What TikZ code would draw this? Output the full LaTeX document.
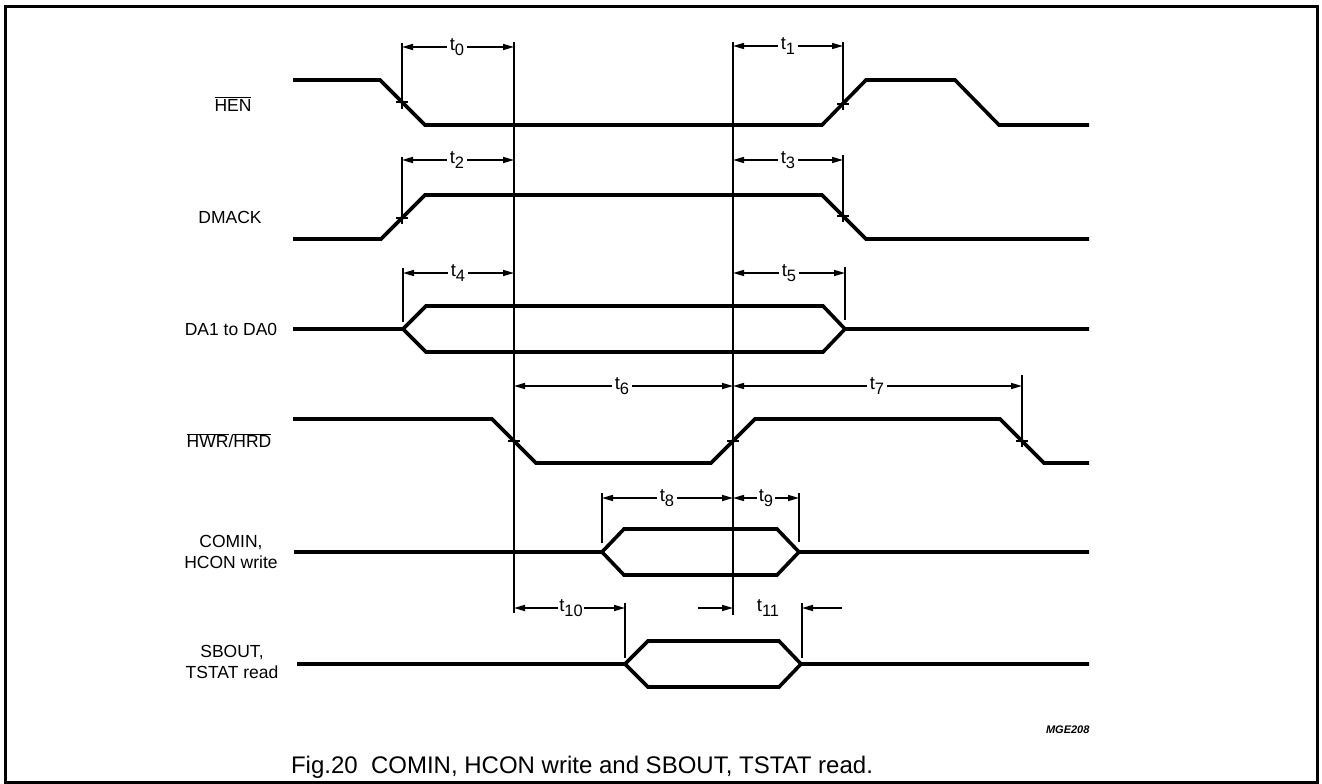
\documentclass[tikz,border=0pt]{standalone}
\usepackage{fontspec}
\setmainfont{Liberation Sans}
\usetikzlibrary{arrows.meta}
\newcommand\ovl[1]{$\overline{\mbox{#1}}$}
\newcommand\tsub[1]{t\raisebox{-0.3em}{\fontsize{16.5}{16.5}\selectfont #1}}
\begin{document}
\begin{tikzpicture}[x=1pt,y=-1pt,
  sig/.style={line width=3.6pt},
  tim/.style={line width=1.6pt},
  dim/.style={line width=1.6pt,-{Triangle[length=11pt,width=6pt]}},
  lbl/.style={font=\fontsize{17.5}{21}\selectfont,align=center,inner sep=0pt},
  tl/.style={font=\fontsize{18.5}{20}\selectfont,inner sep=3pt},
]
\useasboundingbox (0,0) rectangle (1322,784);
\draw[line width=3pt] (5,7) rectangle (1317,782);

% signal labels
\node[lbl] (lHEN) at (233,104) {\ovl{HEN}};
\node[lbl] (lDMACK) at (230,217) {DMACK};
\node[lbl] (lDA) at (231,329) {DA1 to DA0};
\node[lbl] (lHWR) at (229,441) {\ovl{HWR}/\ovl{HRD}};
\node[lbl] (lCOMIN) at (231,552) {COMIN,\\HCON write};
\node[lbl] (lSBOUT) at (232,662) {SBOUT,\\TSTAT read};

% signals
\draw[sig] (293,80)--(380,80)--(425,125)--(822,125)--(866,80)--(955,80)--(999,125)--(1089,125);
\draw[sig] (293,239)--(381,239)--(425,195)--(822,195)--(866,239)--(1089,239);
\draw[sig] (293,329)--(403,329)--(426,306)--(823,306)--(845,329)--(1089,329);
\draw[sig] (403,329)--(426,352)--(823,352)--(845,329);
\draw[sig] (293,419)--(492,419)--(536,463)--(711,463)--(755,419)--(1000,419)--(1044,463)--(1089,463);
\draw[sig] (294,552)--(602,552)--(624,529)--(777,529)--(799,552)--(1089,552);
\draw[sig] (602,552)--(624,575)--(777,575)--(799,552);
\draw[sig] (297,664)--(625,664)--(648,641)--(779,641)--(801,664)--(1089,664);
\draw[sig] (625,664)--(648,687)--(779,687)--(801,664);

% long reference lines
\coordinate (V1top) at (514,42); \coordinate (V1bot) at (514,613);
\coordinate (V2top) at (733,42); \coordinate (V2bot) at (733,615);
\draw[tim] (V1top) -- (V1bot);
\draw[tim] (V2top) -- (V2bot);

% ticks
\draw[tim] (402,43) -- (402,109);
\draw[tim] (402,157) -- (402,224);
\draw[tim] (403,268) -- (403,322);
\draw[tim] (843,42) -- (843,110);
\draw[tim] (843,155) -- (843,222);
\draw[tim] (845,267) -- (845,320);
\draw[tim] (1022,375) -- (1022,447);
\draw[tim] (602,493) -- (602,543);
\draw[tim] (799,493) -- (799,542);
\draw[tim] (625,603) -- (625,658);
\draw[tim] (802,603) -- (802,658);

% cross marks
\foreach \x/\y in {402/102, 843/104, 402/218, 843/216, 514/441, 733/441, 1022/441}
  \draw[tim] (\x-6,\y) -- (\x+6,\y);

% dimension arrows
\coordinate (a0) at (402,47); \coordinate (b0) at (514,47);
\node[tl] (t0) at (457,47) {\tsub{0}};
\draw[dim] (t0) -- (a0); \draw[dim] (t0) -- (b0);

\coordinate (a1) at (733,46); \coordinate (b1) at (843,46);
\node[tl] (t1) at (788,46) {\tsub{1}};
\draw[dim] (t1) -- (a1); \draw[dim] (t1) -- (b1);

\coordinate (a2) at (402,160); \coordinate (b2) at (514,160);
\node[tl] (t2) at (457,160) {\tsub{2}};
\draw[dim] (t2) -- (a2); \draw[dim] (t2) -- (b2);

\coordinate (a3) at (733,160); \coordinate (b3) at (843,160);
\node[tl] (t3) at (788,160) {\tsub{3}};
\draw[dim] (t3) -- (a3); \draw[dim] (t3) -- (b3);

\coordinate (a4) at (403,273); \coordinate (b4) at (514,273);
\node[tl] (t4) at (458,273) {\tsub{4}};
\draw[dim] (t4) -- (a4); \draw[dim] (t4) -- (b4);

\coordinate (a5) at (733,273); \coordinate (b5) at (845,273);
\node[tl] (t5) at (789,273) {\tsub{5}};
\draw[dim] (t5) -- (a5); \draw[dim] (t5) -- (b5);

\coordinate (a6) at (514,386); \coordinate (b6) at (733,386);
\node[tl] (t6) at (622,386) {\tsub{6}};
\draw[dim] (t6) -- (a6); \draw[dim] (t6) -- (b6);

\coordinate (b7) at (1022,386);
\node[tl] (t7) at (877,386) {\tsub{7}};
\draw[dim] (t7) -- (b6); \draw[dim] (t7) -- (b7);

\coordinate (a8) at (602,498); \coordinate (b8) at (733,498); \coordinate (c9) at (799,498);
\node[tl] (t8) at (667,498) {\tsub{8}};
\draw[dim] (t8) -- (a8); \draw[dim] (t8) -- (b8);
\node[tl,inner sep=2pt] (t9) at (766,498) {\tsub{9}};
\draw[dim] (t9) -- (b8); \draw[dim] (t9) -- (c9);

\coordinate (a10) at (514,608); \coordinate (b10) at (625,608);
\node[tl,inner sep=1pt] (t10) at (571,608) {\tsub{10}};
\draw[dim] (t10) -- (a10); \draw[dim] (t10) -- (b10);

\coordinate (p11l) at (698,608); \coordinate (q11l) at (733,608);
\coordinate (p11r) at (842,608); \coordinate (q11r) at (802,608);
\node[tl] (t11) at (768,608) {\tsub{11}};
\draw[dim] (p11l) -- (q11l); \draw[dim] (p11r) -- (q11r);

% identifiers and caption
\node[font=\fontsize{11}{13}\selectfont\bfseries\itshape,anchor=east] (mge) at (1093,730) {MGE208};
\node[font=\fontsize{24}{27}\selectfont] (cap) at (582,767) {Fig.20\ \ COMIN, HCON write and SBOUT, TSTAT read.};
\end{tikzpicture}
\end{document}
